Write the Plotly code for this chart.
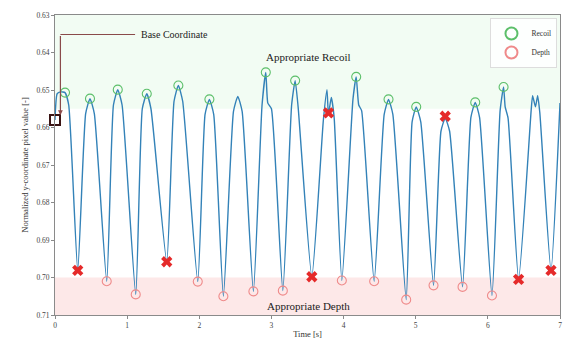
import plotly.graph_objects as go

# ---- data ----
signal_t = [0.000, 0.030, 0.080, 0.139, 0.190, 0.315,
            0.425, 0.485, 0.545, 0.717,
            0.810, 0.870, 0.930, 1.119,
            1.210, 1.272, 1.330, 1.549,
            1.650, 1.710, 1.770, 1.979,
            2.080, 2.140, 2.200, 2.334,
            2.474, 2.534, 2.594, 2.750,
            2.870, 2.922, 2.950, 3.000, 3.158,
            3.280, 3.329, 3.370, 3.560,
            3.720, 3.770, 3.790, 3.830, 3.870, 3.976,
            4.130, 4.175, 4.210, 4.250, 4.424,
            4.563, 4.623, 4.683, 4.868,
            4.950, 5.007, 5.070, 5.247,
            5.350, 5.409, 5.470, 5.649,
            5.765, 5.825, 5.885, 6.057,
            6.170, 6.218, 6.240, 6.280, 6.426,
            6.600, 6.620, 6.660, 6.690, 6.720, 6.875,
            7.000]
signal_y = [0.6580, 0.6510, 0.6505, 0.6507, 0.6540, 0.6981,
            0.6563, 0.6523, 0.6563, 0.7010,
            0.6540, 0.6499, 0.6540, 0.7045,
            0.6550, 0.6510, 0.6550, 0.6958,
            0.6530, 0.6488, 0.6530, 0.7011,
            0.6565, 0.6525, 0.6565, 0.7050,
            0.6557, 0.6517, 0.6557, 0.7037,
            0.6540, 0.6453, 0.6535, 0.6550, 0.7035,
            0.6540, 0.6475, 0.6545, 0.6998,
            0.6580, 0.6499, 0.6565, 0.6520, 0.6575, 0.7008,
            0.6525, 0.6465, 0.6540, 0.6555, 0.7010,
            0.6565, 0.6525, 0.6565, 0.7059,
            0.6585, 0.6545, 0.6585, 0.7021,
            0.6610, 0.6575, 0.6610, 0.7025,
            0.6573, 0.6533, 0.6573, 0.7048,
            0.6555, 0.6492, 0.6545, 0.6575, 0.7005,
            0.6555, 0.6515, 0.6545, 0.6515, 0.6560, 0.6981,
            0.6535]

recoil_t = [0.139, 0.485, 0.870, 1.272, 1.710, 2.140, 2.922, 3.329,
            4.175, 4.623, 5.007, 5.825, 6.218]
recoil_y = [0.6507, 0.6523, 0.6499, 0.6510, 0.6488, 0.6525, 0.6453, 0.6475,
            0.6465, 0.6525, 0.6545, 0.6533, 0.6492]

depth_t = [0.717, 1.119, 1.979, 2.334, 2.750, 3.158, 3.976, 4.424,
           4.868, 5.247, 5.649, 6.057]
depth_y = [0.7010, 0.7045, 0.7011, 0.7050, 0.7037, 0.7035, 0.7008, 0.7010,
           0.7059, 0.7021, 0.7025, 0.7048]

fail_t = [0.315, 1.549, 3.560, 6.426, 6.875, 3.791, 5.409]
fail_y = [0.6981, 0.6958, 0.6998, 0.7005, 0.6981, 0.6561, 0.6570]

base_t = [0.0]
base_y = [0.6580]

recoil_zone = [0.63, 0.655]
depth_zone = [0.70, 0.71]
x_ticks = [0, 1, 2, 3, 4, 5, 6, 7]
y_ticks = [0.63, 0.64, 0.65, 0.66, 0.67, 0.68, 0.69, 0.70, 0.71]

FONT = "Liberation Serif"

fig = go.Figure()

fig.add_hrect(y0=recoil_zone[0], y1=recoil_zone[1], fillcolor="rgba(175,235,185,0.17)",
              line_width=0, layer="below")
fig.add_hrect(y0=depth_zone[0], y1=depth_zone[1], fillcolor="rgba(250,190,190,0.36)",
              line_width=0, layer="below")

fig.add_trace(go.Scatter(x=signal_t, y=signal_y, mode="lines",
                         line=dict(color="#3382b8", width=1.4, shape="spline", smoothing=0.5),
                         showlegend=False, hoverinfo="skip"))

fig.add_trace(go.Scatter(x=recoil_t, y=recoil_y, mode="markers", name="Recoil",
                         marker=dict(symbol="circle-open", size=9,
                                     color="#5cbf6a", line=dict(width=1.1))))
fig.add_trace(go.Scatter(x=depth_t, y=depth_y, mode="markers", name="Depth",
                         marker=dict(symbol="circle-open", size=9,
                                     color="#ef8a8a", line=dict(width=1.1))))
fig.add_trace(go.Scatter(x=fail_t, y=fail_y, mode="markers", showlegend=False,
                         marker=dict(symbol="x", size=10, color="#e52a2a",
                                     line=dict(width=0))))
fig.add_trace(go.Scatter(x=base_t, y=base_y, mode="markers", showlegend=False,
                         marker=dict(symbol="square-open", size=10, color="#3a1414",
                                     line=dict(width=2)), cliponaxis=False))

# Base coordinate callout
ann_y = 0.6352
fig.add_shape(type="line", x0=0.075, x1=1.11, y0=ann_y, y1=ann_y,
              line=dict(color="#8a4a4a", width=1.2))
fig.add_annotation(x=0.075, y=base_y[0] - 0.0013, ax=0.075, ay=ann_y,
                   xref="x", yref="y", axref="x", ayref="y",
                   showarrow=True, arrowhead=2, arrowsize=0.8, arrowwidth=1.2,
                   arrowcolor="#8a4a4a", text="")
fig.add_annotation(x=1.17, y=ann_y, text="Base Coordinate", showarrow=False,
                   xanchor="left", yanchor="middle",
                   font=dict(family=FONT, size=10, color="#222"))

fig.add_annotation(x=3.51, y=0.6411, text="Appropriate Recoil", showarrow=False,
                   font=dict(family=FONT, size=11, color="#222"))
fig.add_annotation(x=3.51, y=0.7075, text="Appropriate Depth", showarrow=False,
                   font=dict(family=FONT, size=11, color="#222"))

axis_common = dict(showgrid=False, zeroline=False, showline=True, mirror=True,
                   linecolor="#8a8a8a", linewidth=1, ticks="outside", ticklen=3,
                   tickcolor="#8a8a8a", automargin=False,
                   tickfont=dict(family=FONT, size=7.5, color="#444"))

fig.update_xaxes(range=[0, 7], tickvals=x_ticks,
                 title=dict(text="Time [s]", font=dict(family=FONT, size=8.5, color="#333"),
                            standoff=2),
                 **axis_common)
fig.update_yaxes(range=[0.71, 0.63], tickvals=y_ticks, tickformat=".2f",
                 title=dict(text="Normalized y-coordinate pixel value [-]",
                            font=dict(family=FONT, size=8.5, color="#333"), standoff=6),
                 **axis_common)

fig.update_layout(width=568, height=347,
                  margin=dict(l=55, r=8, t=15, b=32),
                  plot_bgcolor="white", paper_bgcolor="white",
                  legend=dict(x=0.995, y=0.99, xanchor="right", yanchor="top",
                              bgcolor="rgba(255,255,255,0.85)", bordercolor="#dddddd",
                              borderwidth=1, font=dict(family=FONT, size=7.5, color="#333"),
                              itemwidth=30, tracegroupgap=0, itemsizing="constant"))

fig.write_html("out.html", config={"displayModeBar": False},
               post_script="document.body.style.margin='0';document.body.style.padding='0';")
